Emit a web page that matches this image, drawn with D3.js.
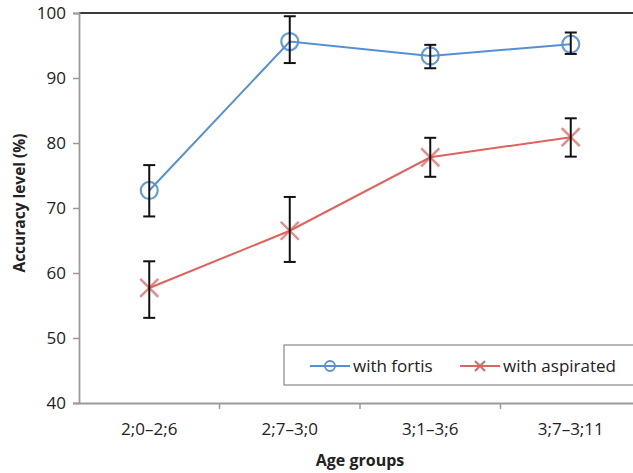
<!DOCTYPE html>
<html>
<head>
<meta charset="utf-8">
<script src="https://cdn.jsdelivr.net/npm/d3@7"></script>
<style>
  html, body { margin: 0; padding: 0; background: #fff; }
  svg { display: block; }
  text { font-family: "Open Sans", "Liberation Sans", sans-serif; fill: #222; }
</style>
</head>
<body>
<script>
// Accuracy by age group for two stop types, with error bars
const ageGroups = ["2;0\u20132;6", "2;7\u20133;0", "3;1\u20133;6", "3;7\u20133;11"];
const fortisMean = [72.7, 95.6, 93.4, 95.2];
const fortisLow  = [68.7, 92.3, 91.5, 93.7];
const fortisHigh = [76.6, 99.5, 95.1, 97.0];
const aspMean = [57.7, 66.5, 77.8, 80.9];
const aspLow  = [53.1, 61.7, 74.8, 77.9];
const aspHigh = [61.8, 71.7, 80.8, 83.8];
const yTicks = [40, 50, 60, 70, 80, 90, 100];
const seriesNames = ["with fortis", "with aspirated"];

const W = 633, H = 473;
const plotL = 79, plotR = 641, plotT = 13, plotB = 403;

const svg = d3.select("body").append("svg").attr("width", W).attr("height", H);

const x = d3.scaleBand().domain(ageGroups).range([plotL, plotR]);
const y = d3.scaleLinear().domain([40, 100]).range([plotB, plotT]);

const blue = "#5590d3", red = "#e0625c";

// top border line
svg.append("line").attr("x1", plotL).attr("x2", plotR + 10)
  .attr("y1", y(100)).attr("y2", y(100))
  .attr("stroke", "#3a3a3a").attr("stroke-width", 2);

// y axis
const yAxis = svg.append("g").attr("transform", `translate(${plotL},0)`)
  .call(d3.axisLeft(y).tickValues(yTicks).tickSize(6).tickPadding(7));
yAxis.select(".domain").attr("stroke", "#9a9a9a").attr("stroke-width", 1.8);
yAxis.selectAll(".tick line").attr("stroke", "#9a9a9a").attr("stroke-width", 1.5);
yAxis.selectAll(".tick text").style("font-size", "17px").attr("fill", "#222");

// x axis
const xAxis = svg.append("g").attr("transform", `translate(0,${plotB})`)
  .call(d3.axisBottom(x).tickSize(0).tickPadding(20));
xAxis.select(".domain").attr("stroke", "#9a9a9a").attr("stroke-width", 1.8);
xAxis.selectAll(".tick text").style("font-size", "17px").attr("fill", "#222");
// boundary ticks between groups
svg.append("g").selectAll("line").data(ageGroups.slice(1)).join("line")
  .attr("x1", d => x(d)).attr("x2", d => x(d))
  .attr("y1", plotB).attr("y2", plotB + 6)
  .attr("stroke", "#9a9a9a").attr("stroke-width", 1.5);

// axis titles
svg.append("text").attr("x", 360).attr("y", 466).attr("text-anchor", "middle")
  .style("font-size", "16px").style("font-weight", "bold").text("Age groups");
svg.append("text").attr("transform", `translate(25,203) rotate(-90)`)
  .attr("text-anchor", "middle").style("font-size", "15.5px").style("font-weight", "bold")
  .text("Accuracy level (%)");

const cx = d => x(d) + x.bandwidth() / 2;
const lineGen = d3.line().x(d => cx(d.g)).y(d => y(d.v));

function series(mean, lo, hi) {
  return ageGroups.map((g, i) => ({ g, v: mean[i], lo: lo[i], hi: hi[i] }));
}
const fortis = series(fortisMean, fortisLow, fortisHigh);
const asp = series(aspMean, aspLow, aspHigh);

svg.append("path").datum(fortis).attr("d", lineGen)
  .attr("fill", "none").attr("stroke", blue).attr("stroke-width", 2);
svg.append("path").datum(asp).attr("d", lineGen)
  .attr("fill", "none").attr("stroke", red).attr("stroke-width", 2);

// markers
function drawX(sel, px, py, s, col, w) {
  sel.append("path").attr("d", `M${px - s},${py - s}L${px + s},${py + s}M${px - s},${py + s}L${px + s},${py - s}`)
    .attr("stroke", col).attr("stroke-width", w).attr("fill", "none");
}
fortis.forEach(d => {
  svg.append("circle").attr("cx", cx(d.g)).attr("cy", y(d.v)).attr("r", 8.5)
    .attr("fill", "none").attr("stroke", blue).attr("stroke-width", 2.2).attr("opacity", 0.9);
});
asp.forEach(d => {
  const g = svg.append("g").attr("opacity", 0.75);
  drawX(g, cx(d.g), y(d.v), 9, red, 2.4);
});

// error bars
function errBars(data) {
  const g = svg.append("g").attr("stroke", "#111").attr("stroke-width", 2);
  data.forEach(d => {
    const px = cx(d.g);
    g.append("line").attr("x1", px).attr("x2", px).attr("y1", y(d.hi)).attr("y2", y(d.lo));
    g.append("line").attr("x1", px - 6).attr("x2", px + 6).attr("y1", y(d.hi)).attr("y2", y(d.hi));
    g.append("line").attr("x1", px - 6).attr("x2", px + 6).attr("y1", y(d.lo)).attr("y2", y(d.lo));
  });
}
errBars(fortis);
errBars(asp);

// legend
const lg = svg.append("g");
lg.append("rect").attr("x", 284).attr("y", 345).attr("width", 360).attr("height", 40)
  .attr("fill", "#fff").attr("stroke", "#888").attr("stroke-width", 1.2);
lg.append("line").attr("x1", 310).attr("x2", 350).attr("y1", 366).attr("y2", 366)
  .attr("stroke", blue).attr("stroke-width", 2);
lg.append("circle").attr("cx", 330).attr("cy", 366).attr("r", 5)
  .attr("fill", "none").attr("stroke", blue).attr("stroke-width", 1.8);
lg.append("text").attr("x", 353).attr("y", 372).style("font-size", "17px").text(seriesNames[0]);
lg.append("line").attr("x1", 460).attr("x2", 500).attr("y1", 366).attr("y2", 366)
  .attr("stroke", red).attr("stroke-width", 2);
drawX(lg, 480, 366, 5, red, 1.8);
lg.append("text").attr("x", 503).attr("y", 372).style("font-size", "17px").text(seriesNames[1]);
</script>
</body>
</html>
